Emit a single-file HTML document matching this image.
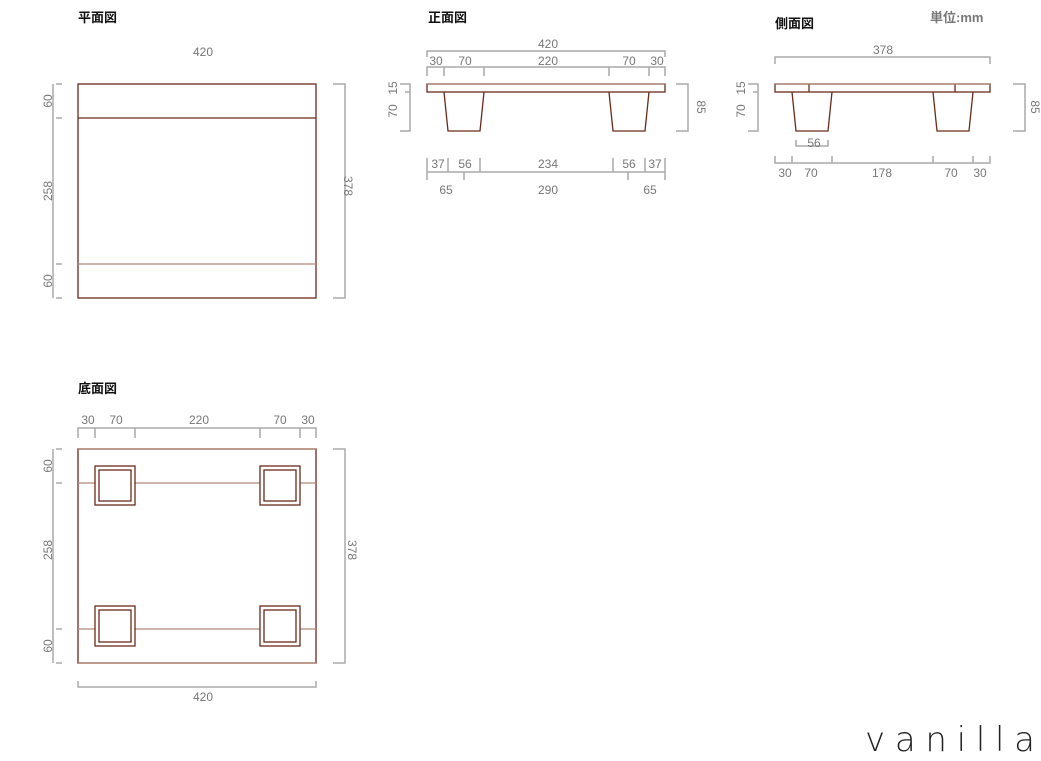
<!DOCTYPE html><html><head><meta charset="utf-8"><style>body{margin:0;background:#fff}svg{display:block}</style></head><body>
<svg width="1041" height="761" xmlns="http://www.w3.org/2000/svg" font-family="Liberation Sans, Noto Sans CJK JP, sans-serif">
<g font-size="13" font-weight="bold" fill="#111">
<text x="78" y="22">平面図</text><text x="428" y="22">正面図</text><text x="775" y="28">側面図</text><text x="78" y="393">底面図</text>
<text x="930" y="22" fill="#777">単位:mm</text></g>
<g fill="none" stroke="#aaa" stroke-width="1.5">
<path d="M56 84H62M56 118H62M56 264H62M56 298H62M53 84V298"/>
<path d="M333 84H345V298H333"/>
<path d="M427 57V51H665V57M427 76V67H665V76M444 67V76M484 67V76M609 67V76M649 67V76"/>
<path d="M676 84H688V131H676M400 84H410V131H400M405 92H410"/>
<path d="M427 158V172H665V158M448 158V172M480 158V172M613 158V172M645 158V172M427 172V180M464 172V180M628 172V180M665 172V180"/>
<path d="M775 64V57H990V64M796 140V146H828V140"/>
<path d="M775 156V163H990V156M792 156V163M832 156V163M933 156V163M973 156V163"/>
<path d="M1013 84H1025V131H1013M748 84H758V131H748M753 92H758"/>
<path d="M78 438V428H316V438M95 428V438M135 428V438M260 428V438M300 428V438"/>
<path d="M56 449H62M56 483H62M56 629H62M56 663H62M53 449V663"/>
<path d="M333 449H345V663H333M78 681V687H316V681"/>
</g>
<g font-size="12" fill="#777" text-anchor="middle">
<text x="203" y="56">420</text>
<text transform="translate(52,101) rotate(-90)">60</text><text transform="translate(52,191) rotate(-90)">258</text><text transform="translate(52,281) rotate(-90)">60</text>
<text transform="translate(344,186) rotate(90)">378</text>
<text x="548" y="48">420</text>
<text x="436" y="65">30</text><text x="465" y="65">70</text><text x="548" y="65">220</text><text x="629" y="65">70</text><text x="657" y="65">30</text>
<text transform="translate(697,107) rotate(90)">85</text>
<text transform="translate(397,88) rotate(-90)">15</text><text transform="translate(397,111) rotate(-90)">70</text>
<text x="438" y="168">37</text><text x="465" y="168">56</text><text x="548" y="168">234</text><text x="629" y="168">56</text><text x="655" y="168">37</text>
<text x="446" y="194">65</text><text x="548" y="194">290</text><text x="650" y="194">65</text>
<text x="883" y="54">378</text><text x="814" y="147">56</text>
<text x="785" y="177">30</text><text x="811" y="177">70</text><text x="882" y="177">178</text><text x="951" y="177">70</text><text x="980" y="177">30</text>
<text transform="translate(1031,107) rotate(90)">85</text>
<text transform="translate(745,88) rotate(-90)">15</text><text transform="translate(745,111) rotate(-90)">70</text>
<text x="88" y="424">30</text><text x="116" y="424">70</text><text x="199" y="424">220</text><text x="280" y="424">70</text><text x="308" y="424">30</text>
<text transform="translate(52,466) rotate(-90)">60</text><text transform="translate(52,550) rotate(-90)">258</text><text transform="translate(52,646) rotate(-90)">60</text>
<text transform="translate(348,550) rotate(90)">378</text>
<text x="203" y="701">420</text>
</g>
<g fill="none" stroke-width="1.3">
<g stroke="#6b2a1a">
<rect x="78" y="84" width="238" height="214"/><path d="M78 118H316"/>
<path d="M78 264H316" stroke="#b08878"/>
<rect x="427" y="84" width="238" height="8"/>
<path d="M444 92L448 131H480L484 92M609 92L613 131H645L649 92"/>
<rect x="775" y="84" width="215" height="8"/><path d="M809 84V92M955 84V92"/>
<path d="M792 92L796 131H828L832 92M933 92L937 131H969L973 92"/>
<rect x="78" y="449" width="238" height="214"/>
</g>
<g stroke="#b08878">
<path d="M78 483H95M135 483H260M300 483H316M78 629H95M135 629H260M300 629H316"/>
<path d="M78 449H316M78 663H316M427 84H665M775 84H990"/>
</g>
<g stroke="#6b2a1a">
<rect x="95" y="466" width="40" height="39"/><rect x="99" y="470" width="32" height="31"/>
<rect x="260" y="466" width="40" height="39"/><rect x="264" y="470" width="32" height="31"/>
<rect x="95" y="606" width="40" height="40"/><rect x="99" y="610" width="32" height="32"/>
<rect x="260" y="606" width="40" height="40"/><rect x="264" y="610" width="32" height="32"/>
</g></g>
<text x="865" y="751" font-size="34" fill="#222" font-family="DejaVu Sans, sans-serif" font-weight="200" textLength="170" lengthAdjust="spacing">vanilla</text>
</svg></body></html>
